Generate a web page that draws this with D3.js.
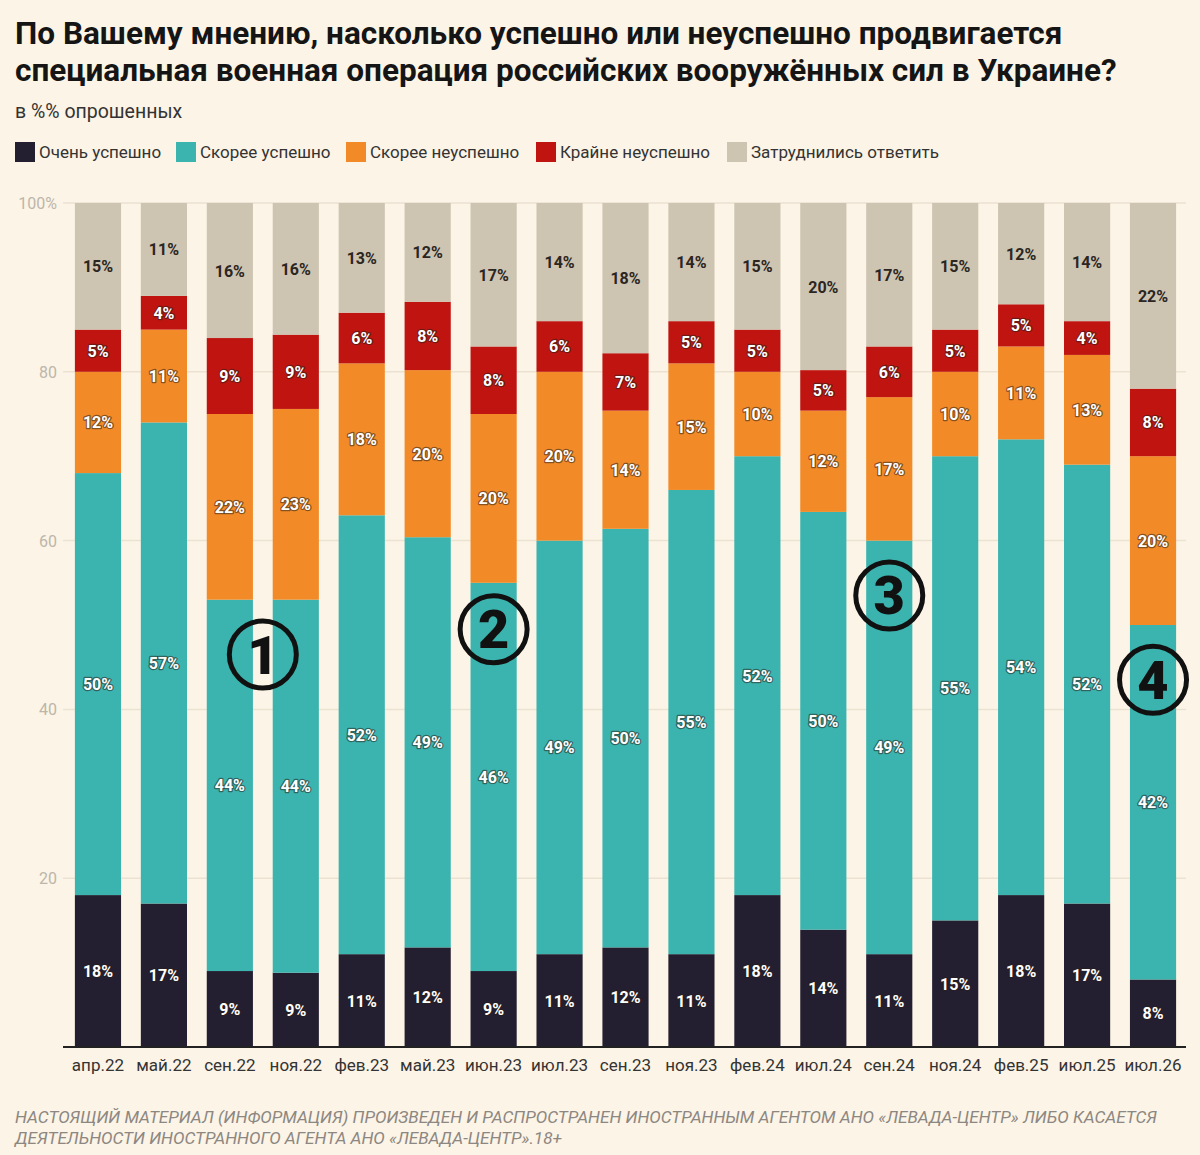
<!DOCTYPE html>
<html><head><meta charset="utf-8">
<script src="https://cdn.jsdelivr.net/npm/d3@7"></script>
<style>
html,body{margin:0;padding:0;background:#fcf4e6;}
svg{display:block;font-family:Roboto,"Noto Sans",sans-serif;}
</style></head><body>
<svg id="c" width="1200" height="1155"></svg>
<script>
const categories = ["апр.22","май.22","сен.22","ноя.22","фев.23","май.23","июн.23","июл.23","сен.23","ноя.23","фев.24","июл.24","сен.24","ноя.24","фев.25","июл.25","июл.26"];
const veryGood   = [18,17,9,8.8,11,11.8,9,11,11.8,11,18,13.9,11,15,18,17,8];
const ratherGood = [50,57,44,44.2,52,48.6,46,49,49.6,55,52,49.5,49,55,54,52,42];
const ratherBad  = [12,11,22,22.6,18,19.8,20,20,14,15,10,12,17,10,11,13,20];
const veryBad    = [5,4,9,8.8,6,8.1,8,6,6.8,5,5,4.8,6,5,5,4,8];
const hard       = [15,11,16,15.6,13,11.7,17,14,17.8,14,15,19.8,17,15,12,14,22];
const seriesNames = ["Очень успешно","Скорее успешно","Скорее неуспешно","Крайне неуспешно","Затруднились ответить"];
const seriesColors = ["#231f31","#3bb4af","#f28a27","#bf1410","#cdc4b2"];
const yTicks = [20,40,60,80,100];
const markers = [{n:"1",a:"сен.22",b:"ноя.22",v:46.5},{n:"2",a:"июн.23",v:49.5},{n:"3",a:"сен.24",v:53.5},{n:"4",a:"июл.26",v:43.5}];

const svg = d3.select("#c");
svg.append("rect").attr("width",1200).attr("height",1155).attr("fill","#fcf4e6");

// title
const title = svg.append("text").attr("x",15).attr("font-size",31.5).attr("font-weight",700).attr("fill","#151515");
title.append("tspan").attr("x",15).attr("y",44).text("По Вашему мнению, насколько успешно или неуспешно продвигается");
title.append("tspan").attr("x",15).attr("y",81).text("специальная военная операция российских вооружённых сил в Украине?");
svg.append("text").attr("x",15).attr("y",118).attr("font-size",19.5).attr("fill","#333").text("в %% опрошенных");

// legend
const legX = [15,176,346,536,727];
seriesNames.forEach((n,i)=>{
  svg.append("rect").attr("x",legX[i]).attr("y",142).attr("width",20).attr("height",20).attr("fill",seriesColors[i]);
  svg.append("text").attr("x",legX[i]+24).attr("y",158).attr("font-size",17).attr("fill","#333").text(n);
});

const x = d3.scaleBand().domain(categories).range([65,1186]).paddingInner(0.3).paddingOuter(0.15);
const y = d3.scaleLinear().domain([0,100]).range([1047,203]);

// grid
svg.append("g").selectAll("line").data(yTicks).join("line")
  .attr("x1",63).attr("x2",1186).attr("y1",d=>y(d)).attr("y2",d=>y(d))
  .attr("stroke","#ece2d2").attr("stroke-width",1.5);
svg.append("g").selectAll("text").data(yTicks).join("text")
  .attr("x",57).attr("y",d=>y(d)+6).attr("text-anchor","end").attr("font-size",16).attr("fill","#bdb6ab")
  .text(d=>d===100?"100%":d);

// stacks
const rows = categories.map((c,i)=>({cat:c,s0:veryGood[i],s1:ratherGood[i],s2:ratherBad[i],s3:veryBad[i],s4:hard[i]}));
const stack = d3.stack().keys(["s0","s1","s2","s3","s4"])(rows);
const g = svg.append("g");
stack.forEach((layer,li)=>{
  g.selectAll(null).data(layer).join("rect")
    .attr("x",d=>x(d.data.cat)).attr("width",x.bandwidth())
    .attr("y",d=>y(Math.min(d[1],100))).attr("height",d=>y(d[0])-y(Math.min(d[1],100)))
    .attr("fill",seriesColors[li]);
});
stack.forEach((layer,li)=>{
  const t = g.selectAll(null).data(layer).join("text")
    .attr("x",d=>x(d.data.cat)+x.bandwidth()/2)
    .attr("y",d=>y((d[0]+Math.min(d[1],100))/2)+6)
    .attr("text-anchor","middle").attr("font-size",16).attr("font-weight",700)
    .text(d=>Math.round(d[1]-d[0])+"%");
  if(li===4){ t.attr("fill","#2b2622"); }
  else { t.attr("fill","#fff").attr("stroke","rgba(40,30,25,0.55)").attr("stroke-width",2.5).attr("paint-order","stroke").attr("stroke-linejoin","round"); }
});

// baseline
svg.append("line").attr("x1",63).attr("x2",1186).attr("y1",y(0)).attr("y2",y(0)).attr("stroke","#222").attr("stroke-width",2);
// x axis labels
svg.append("g").selectAll("text").data(categories).join("text")
  .attr("x",d=>x(d)+x.bandwidth()/2).attr("y",1071).attr("text-anchor","middle").attr("font-size",17).attr("fill","#333").text(d=>d);

// markers
markers.forEach(m=>{
  const cx = m.b ? (x(m.a)+x(m.b)+x.bandwidth())/2 : x(m.a)+x.bandwidth()/2;
  const cy = y(m.v);
  svg.append("circle").attr("cx",cx).attr("cy",cy).attr("r",33.5).attr("fill","none").attr("stroke","#111").attr("stroke-width",5);
  svg.append("text").attr("x",cx).attr("y",cy+19).attr("text-anchor","middle").attr("font-size",54).attr("font-weight",900).attr("fill","#111").text(m.n);
});

// footer
const f = svg.append("text").attr("font-size",17.2).attr("font-style","italic").attr("fill","#8c8782");
f.append("tspan").attr("x",15).attr("y",1123).text("НАСТОЯЩИЙ МАТЕРИАЛ (ИНФОРМАЦИЯ) ПРОИЗВЕДЕН И РАСПРОСТРАНЕН ИНОСТРАННЫМ АГЕНТОМ АНО «ЛЕВАДА-ЦЕНТР» ЛИБО КАСАЕТСЯ");
f.append("tspan").attr("x",15).attr("y",1144).text("ДЕЯТЕЛЬНОСТИ ИНОСТРАННОГО АГЕНТА АНО «ЛЕВАДА-ЦЕНТР».18+");
</script>
</body></html>
